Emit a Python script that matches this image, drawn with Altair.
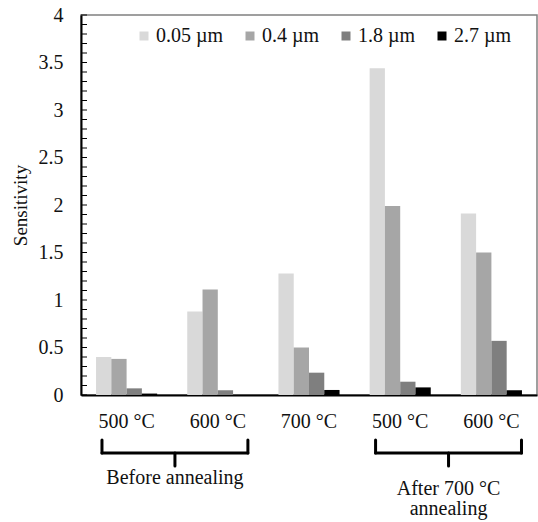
import altair as alt
import pandas as pd

# Sample conditions along the x axis (left to right) and particle sizes
conditions = ["500 °C", "600 °C", "700 °C", "500 °C", "600 °C"]
sizes = ["0.05 µm", "0.4 µm", "1.8 µm", "2.7 µm"]

# Sensitivity per particle size, one value per condition
sens_005 = [0.40, 0.88, 1.28, 3.44, 1.91]
sens_04 = [0.38, 1.11, 0.50, 1.99, 1.50]
sens_18 = [0.07, 0.05, 0.235, 0.14, 0.57]
sens_27 = [0.015, 0.0, 0.053, 0.08, 0.05]

y_tick_values = [0, 0.5, 1, 1.5, 2, 2.5, 3, 3.5, 4]

# Bracketed condition groups under the axis
group_labels = ["Before annealing", "After 700 °C\nannealing"]
group_first = [0, 3]
group_last = [1, 4]

colors = ["#d9d9d9", "#a6a6a6", "#7f7f7f", "#000000"]
FONT = "Liberation Serif"

rows = []
for size, vals in zip(sizes, [sens_005, sens_04, sens_18, sens_27]):
    for i, v in enumerate(vals):
        rows.append({"idx": i, "size": size, "value": v})
df = pd.DataFrame(rows)

# Brace geometry in band units (band i is centred at i + 0.5)
overhang_left, overhang_right = 0.27, 0.33
brace_df = pd.DataFrame({
    "label": group_labels,
    "x0": [f + 0.5 - overhang_left for f in group_first],
    "x1": [l + 0.5 + overhang_right for l in group_last],
})
brace_df["xc"] = (brace_df["x0"] + brace_df["x1"]) / 2

label_expr = "[" + ",".join(f"'{c}'" for c in conditions) + "][datum.value]"

y_axis = alt.Axis(
    title="Sensitivity", values=y_tick_values, format="~g", grid=False,
    ticks=False, tickSize=0, labelFont=FONT, labelFontSize=20,
    labelColor="#111", labelPadding=18, domainColor="#000", domainWidth=2,
    titleFont=FONT, titleFontSize=19, titleFontWeight="normal",
    titleColor="#111", titlePadding=8,
)
y_scale = alt.Scale(domain=[0, 4], nice=False)

bars = alt.Chart(df).mark_bar().encode(
    x=alt.X(
        "idx:O",
        scale=alt.Scale(paddingInner=0.33, paddingOuter=0.165),
        axis=alt.Axis(
            title=None, labelExpr=label_expr, labelAngle=0, ticks=False, tickSize=0,
            labelFont=FONT, labelFontSize=20, labelColor="#111", labelPadding=16,
            domainColor="#000", domainWidth=2,
        ),
    ),
    xOffset=alt.XOffset("size:N", sort=sizes),
    y=alt.Y("value:Q", scale=y_scale, axis=y_axis),
    color=alt.Color(
        "size:N",
        sort=sizes,
        scale=alt.Scale(domain=sizes, range=colors),
        legend=alt.Legend(
            title=None, orient="none", direction="horizontal", legendX=53, legendY=11,
            symbolType="square", symbolSize=81, symbolStrokeWidth=0,
            labelFont=FONT, labelFontSize=20, labelColor="#111", labelOffset=2,
            columnPadding=16, padding=0,
        ),
    ),
)

# Inward-pointing minor ticks on the y axis every 0.1
ticks = alt.Chart(alt.sequence(0, 4.001, 0.1, as_="t")).mark_rule(
    color="#000", strokeWidth=1
).encode(
    y=alt.Y("t:Q", scale=y_scale, axis=y_axis),
    x=alt.value(0),
    x2=alt.value(6),
)

ax = alt.Scale(domain=[0, 5], nice=False, zero=False)
base = alt.Chart(brace_df)
line_style = dict(color="#000", strokeWidth=3, strokeCap="round")
left_arm = base.mark_rule(**line_style).encode(
    x=alt.X("x0:Q", scale=ax, axis=None), y=alt.value(425), y2=alt.value(438)
)
right_arm = base.mark_rule(**line_style).encode(
    x=alt.X("x1:Q", scale=ax, axis=None), y=alt.value(425), y2=alt.value(438)
)
span = base.mark_rule(**line_style).encode(
    x=alt.X("x0:Q", scale=ax, axis=None), x2="x1:Q", y=alt.value(438)
)
notch = base.mark_rule(**line_style).encode(
    x=alt.X("xc:Q", scale=ax, axis=None), y=alt.value(438), y2=alt.value(451)
)
text_style = dict(font=FONT, fontSize=20, color="#111", align="center",
                  baseline="middle", lineBreak="\n", lineHeight=20)
before_text = base.transform_filter(alt.datum.label == group_labels[0]).mark_text(
    **text_style
).encode(x=alt.X("xc:Q", scale=ax, axis=None), y=alt.value(463), text="label:N")
after_text = base.transform_filter(alt.datum.label == group_labels[1]).mark_text(
    **text_style
).encode(x=alt.X("xc:Q", scale=ax, axis=None), y=alt.value(474), text="label:N")

chart = alt.layer(
    bars, ticks, left_arm, right_arm, span, notch, before_text, after_text
).resolve_scale(x="independent").properties(
    width=456,
    height=380,
    autosize=alt.AutoSizeParams(type="none"),
    padding={"left": 81, "top": 15, "right": 1, "bottom": 127},
    background="white",
).configure_view(stroke="#808080", strokeWidth=1.5)

chart.save("out.html", embed_options={"renderer": "svg", "actions": False})
